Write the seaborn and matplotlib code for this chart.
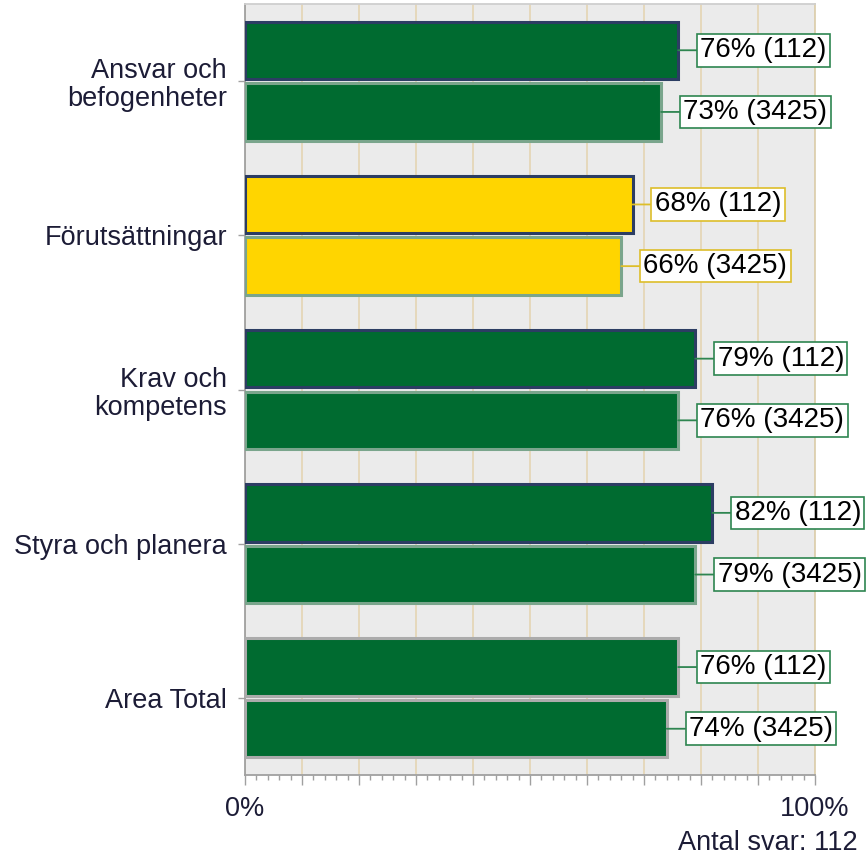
import numpy as np
import pandas as pd
import matplotlib
matplotlib.use("Agg")
import matplotlib.pyplot as plt
from matplotlib.ticker import MultipleLocator
import seaborn as sns

# ─── Data ────────────────────────────────────────────────────────────────────
kategorier = ["Ansvar och\nbefogenheter", "Förutsättningar", "Krav och\nkompetens",
              "Styra och planera", "Area Total"]
serier     = ["112", "3425"]
varde_112  = [76, 68, 79, 82, 76]
varde_3425 = [73, 66, 76, 79, 74]
status     = ["gron", "gul", "gron", "gron", "gron"]
antal_svar = 112

df = pd.DataFrame({
    "kategori": kategorier * 2,
    "serie":    [serier[0]] * len(kategorier) + [serier[1]] * len(kategorier),
    "varde":    varde_112 + varde_3425,
})

# ─── Colours ─────────────────────────────────────────────────────────────────
fyllning   = {"gron": "#006B30", "gul": "#FFD500"}
boxkant    = {"gron": "#2E8550", "gul": "#DDBE2A"}
kant_serie = {"112": "#2C3D63", "3425": "#7AA58C"}
kant_total = "#ABABAB"
text_farg  = "#1C1C36"

sns.set_style("white")
plt.rcParams["font.family"] = ["Liberation Sans", "DejaVu Sans"]

fig = plt.figure(figsize=(8.66, 8.59), dpi=100)
ax = fig.add_axes([245 / 866, 1 - 775 / 859, 570 / 866, 771 / 859])

sns.barplot(data=df, y="kategori", x="varde", hue="serie", order=kategorier,
            hue_order=serier, orient="h", width=0.8, gap=0.07, ax=ax,
            legend=False, palette=["#006B30", "#006B30"], linewidth=2)

# färg per stapel + etikett med ruta
for s_idx, cont in enumerate(ax.containers):
    serie = serier[s_idx]
    for k_idx, bar in enumerate(cont):
        bar.set_facecolor(fyllning[status[k_idx]])
        if kategorier[k_idx] == "Area Total":
            bar.set_edgecolor(kant_total)
        else:
            bar.set_edgecolor(kant_serie[serie])
        bar.set_linewidth(2.2)
        bar.set_zorder(3)

        v = (varde_112 if s_idx == 0 else varde_3425)[k_idx]
        y = bar.get_y() + bar.get_height() / 2
        ec = boxkant[status[k_idx]]
        ax.annotate(f"{v}% ({serie})", xy=(v, y), xytext=(16, 0),
                    textcoords="offset points", ha="left", va="center",
                    fontsize=20, color="black", annotation_clip=False,
                    bbox=dict(boxstyle="square,pad=0.12", fc="white", ec=ec, lw=1.2),
                    arrowprops=dict(arrowstyle="-", color=ec, lw=1.3,
                                    shrinkA=0, shrinkB=0),
                    zorder=5)

# ─── Axes styling ────────────────────────────────────────────────────────────
ax.set_facecolor("#EBEBEB")
ax.set_xlim(0, 100)
ax.set_xlabel("")
ax.set_ylabel("")

ax.set_xticks(np.arange(0, 101, 10))
ax.set_xticklabels(["0%"] + [""] * 9 + ["100%"], fontsize=19.5, color=text_farg)
ax.xaxis.set_minor_locator(MultipleLocator(2))
ax.tick_params(axis="x", which="major", length=7, width=1, color="#A0A0A0",
               pad=8, bottom=True)
ax.tick_params(axis="x", which="minor", length=3.5, width=1, color="#A0A0A0",
               bottom=True)
ax.tick_params(axis="y", length=5, width=1, color="#A0A0A0", pad=8, left=True)
for lbl in ax.get_yticklabels():
    lbl.set_fontsize(19.5)
    lbl.set_color(text_farg)
    lbl.set_linespacing(1.1)

ax.grid(axis="x", which="major", color="#E5D7B8", linewidth=1.3, zorder=0)
ax.set_axisbelow(True)

ax.spines["left"].set_color("#A0A0A0")
ax.spines["bottom"].set_color("#A0A0A0")
ax.spines["top"].set_color("#CFCFCF")
ax.spines["right"].set_color("#DDD0B0")
for sp in ax.spines.values():
    sp.set_linewidth(1.3)

fig.text(858 / 866, 1 - 843 / 859, f"Antal svar: {antal_svar}", ha="right",
         va="center", fontsize=19.5, color=text_farg)

fig.savefig("out.png", dpi=100)
